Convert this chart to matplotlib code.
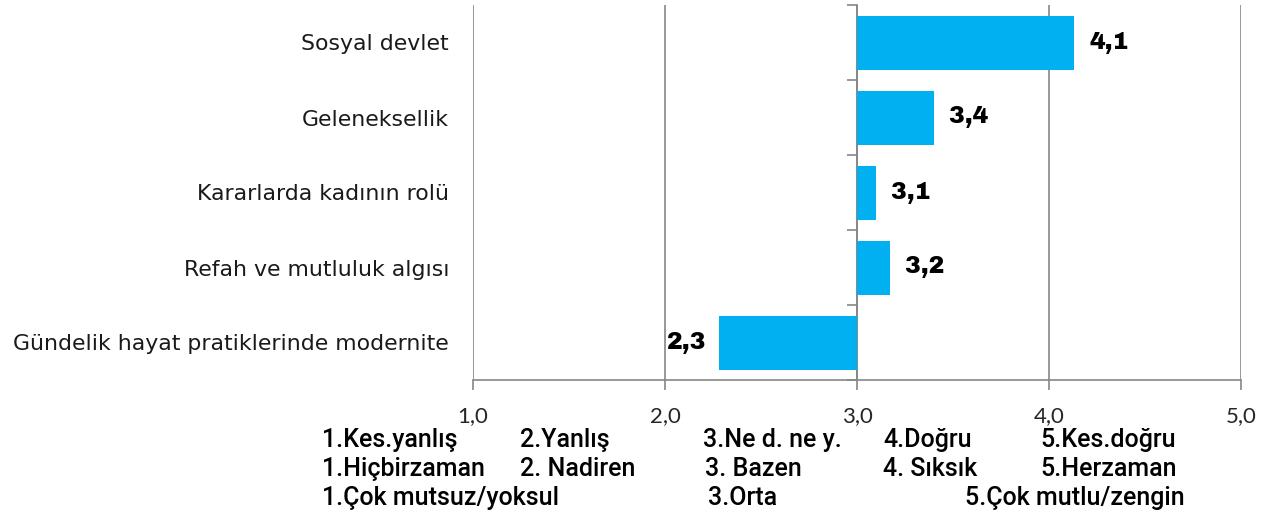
import matplotlib.pyplot as plt
from matplotlib.ticker import FixedLocator

# survey means, centred on 3 (neutral)
categories = ["Sosyal devlet", "Geleneksellik", "Kararlarda kadının rolü",
              "Refah ve mutluluk algısı", "Gündelik hayat pratiklerinde modernite"]
values = [4.13, 3.40, 3.10, 3.17, 2.28]
value_labels = ["4,1", "3,4", "3,1", "3,2", "2,3"]
xticks = [1, 2, 3, 4, 5]
xtick_labels = ["1,0", "2,0", "3,0", "4,0", "5,0"]

# scale explanation under the chart: (text, x in px)
scale_rows = [
    [("1.Kes.yanlış", 322), ("2.Yanlış", 520), ("3.Ne d. ne y.", 703), ("4.Doğru", 883), ("5.Kes.doğru", 1040)],
    [("1.Hiçbirzaman", 322), ("2. Nadiren", 520), ("3. Bazen", 705), ("4. Sıksık", 883), ("5.Herzaman", 1040)],
    [("1.Çok mutsuz/yoksul", 322), ("3.Orta", 708), ("5.Çok mutlu/zengin", 965)],
]
row_y = [440, 469, 498]

W, H = 1274, 518
grey = "#868686"
blue = "#00B0F0"
legend_font = ["Roboto", "DejaVu Sans"]
tick_font = ["Lato", "Carlito", "DejaVu Sans"]
heavy_font = ["Archivo Black", "DejaVu Sans"]

fig = plt.figure(figsize=(W / 100, H / 100), dpi=100)
ax = fig.add_axes([473 / W, 1 - 380 / H, (1241 - 473) / W, (380 - 5) / H])

base = 3.0
pos = list(range(len(categories)))
widths = [v - base for v in values]
ax.barh(pos, widths, left=base, height=0.72, color=blue, zorder=3)

for p, v, lab in zip(pos, values, value_labels):
    if v >= base:
        ax.annotate(lab, (v, p), xytext=(11, 0), textcoords="offset points",
                    ha="left", va="center", fontsize=17, fontweight="bold",
                    fontfamily=heavy_font)
    else:
        ax.annotate(lab, (v, p), xytext=(-9, 0), textcoords="offset points",
                    ha="right", va="center", fontsize=17, fontweight="bold",
                    fontfamily=heavy_font)

ax.set_xlim(1, 5)
ax.set_ylim(len(categories) - 0.5, -0.5)

ax.set_xticks(xticks)
ax.set_xticklabels(xtick_labels, fontfamily=tick_font, fontsize=16, color="#262626")
ax.tick_params(axis="x", length=7, color=grey, width=1.2, pad=12)
ax.xaxis.grid(True, color=grey, lw=1.2, zorder=0)

# y axis sits on 3,0 with ticks between categories; labels pushed to the far left
ax.spines["left"].set_position(("data", base))
ax.spines["left"].set_color(grey)
ax.spines["left"].set_linewidth(1.2)
ax.spines["bottom"].set_color(grey)
ax.spines["bottom"].set_linewidth(1.2)
ax.spines["top"].set_visible(False)
ax.spines["right"].set_visible(False)
ax.set_yticks(pos)
ax.set_yticklabels(categories, fontsize=15.8, color="#1a1a1a")
ax.yaxis.set_minor_locator(FixedLocator([p - 0.5 for p in pos] + [pos[-1] + 0.5]))
ax.tick_params(axis="y", which="major", length=0, pad=(857 - 449) * 0.72)
ax.tick_params(axis="y", which="minor", length=7, color=grey, width=1.2)

for row, y in zip(scale_rows, row_y):
    for txt, x in row:
        fig.text(x / W, 1 - y / H, txt, ha="left", va="center",
                 fontfamily=legend_font, fontsize=18, fontweight="medium")

fig.savefig("out.png", dpi=100)
